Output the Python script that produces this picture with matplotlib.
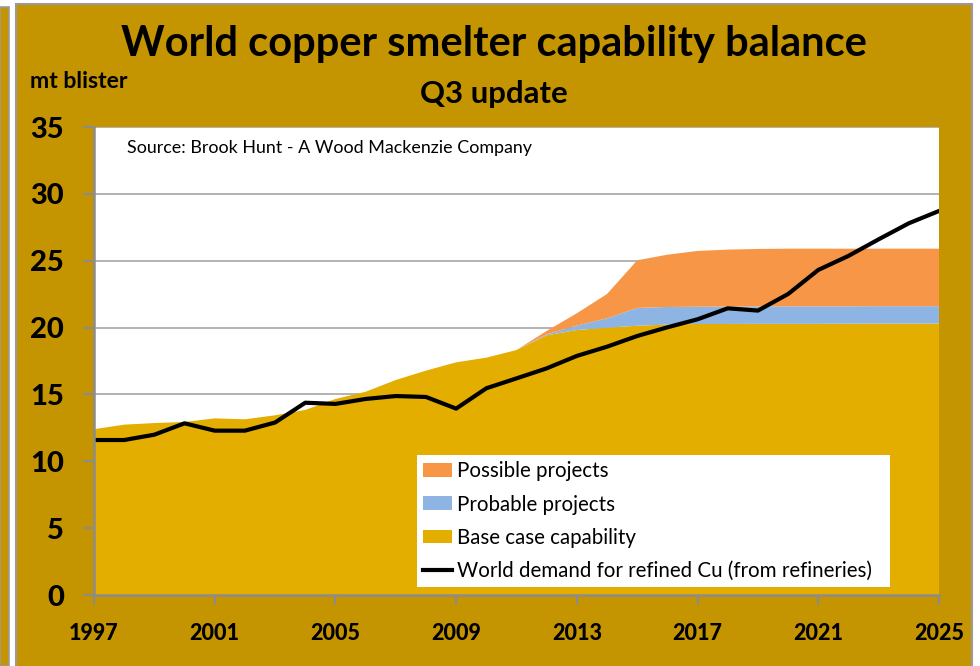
import matplotlib
matplotlib.use("Agg")
import matplotlib.pyplot as plt
from matplotlib.patches import Rectangle, Patch
from matplotlib.lines import Line2D
import numpy as np

years = list(range(1997, 2026))

base_case = [12.4, 12.74, 12.86, 12.94, 13.21, 13.14, 13.44, 13.84, 14.66, 15.2,
             16.08, 16.78, 17.4, 17.75, 18.32, 19.42, 19.82, 19.99, 20.14, 20.22,
             20.27, 20.27, 20.28, 20.28, 20.28, 20.29, 20.3, 20.3, 20.3]
probable = [0, 0, 0, 0, 0, 0, 0, 0, 0, 0,
            0, 0, 0, 0, 0, 0.08, 0.33, 0.7, 1.33, 1.32,
            1.29, 1.3, 1.3, 1.31, 1.31, 1.3, 1.3, 1.3, 1.3]
possible = [0, 0, 0, 0, 0, 0, 0, 0, 0, 0,
            0, 0, 0, 0, 0, 0.25, 0.92, 1.82, 3.56, 3.91,
            4.17, 4.26, 4.3, 4.31, 4.31, 4.31, 4.3, 4.3, 4.3]
demand = [11.59, 11.59, 11.99, 12.84, 12.29, 12.29, 12.9, 14.38, 14.29, 14.66,
          14.88, 14.81, 13.94, 15.46, 16.2, 16.95, 17.88, 18.57, 19.37, 20.02,
          20.62, 21.44, 21.27, 22.51, 24.31, 25.36, 26.6, 27.8, 28.72]

x_ticks = [1997, 2001, 2005, 2009, 2013, 2017, 2021, 2025]
y_ticks = [0, 5, 10, 15, 20, 25, 30, 35]

BG = "#C49500"
GOLD = "#E4AE00"
ORANGE = "#F79646"
BLUE = "#8EB4E3"
FONT = "Lato"

W, H = 980, 666
fig = plt.figure(figsize=(W / 100, H / 100), dpi=100, facecolor="white")

# slide panels behind the chart
fig.patches.append(Rectangle((0, 0), 9 / W, (H - 7) / H, transform=fig.transFigure,
                             facecolor=BG, edgecolor="#9A9A9A", linewidth=1.2, zorder=-2))
fig.patches.append(Rectangle((16 / W, -0.01), (972 - 16) / W, (H - 4) / H + 0.01,
                             transform=fig.transFigure, facecolor=BG,
                             edgecolor="#9A9A9A", linewidth=1.5, zorder=-2))

ax = fig.add_axes([94 / W, 1 - 595 / H, (939 - 94) / W, (595 - 127) / H])
ax.set_facecolor("white")

ax.stackplot(years, base_case, probable, possible,
             colors=[GOLD, BLUE, ORANGE], linewidth=0, zorder=2)
ax.plot(years, demand, color="black", linewidth=3.0, zorder=4,
        solid_joinstyle="round")

ax.set_xlim(1997, 2025)
ax.set_ylim(0, 35)
ax.set_xticks(x_ticks)
ax.set_yticks(y_ticks)
ax.grid(axis="y", color="#A6A6A6", linewidth=1.2, zorder=1)
ax.set_axisbelow(True)

for s in ("top", "right"):
    ax.spines[s].set_visible(False)
for s in ("left", "bottom"):
    ax.spines[s].set_color("#8C8C8C")
    ax.spines[s].set_linewidth(1.8)
    ax.spines[s].set_zorder(5)

ax.tick_params(axis="y", direction="out", length=8, width=1.5, color="#8C8C8C",
               pad=13.5)
ax.tick_params(axis="x", direction="out", length=7, width=1.5, color="#8C8C8C",
               pad=13)
for lab in ax.get_yticklabels():
    lab.set_fontfamily(FONT)
    lab.set_fontweight("black")
    lab.set_fontsize(21)
for lab in ax.get_xticklabels():
    lab.set_fontfamily(FONT)
    lab.set_fontweight("black")
    lab.set_fontsize(15.5)

fig.text(494 / W, 1 - 44 / H, "World copper smelter capability balance",
         ha="center", va="center", fontfamily=FONT, fontweight="bold",
         fontsize=30, color="black")
fig.text(494 / W, 1 - 94 / H, "Q3 update", ha="center", va="center",
         fontfamily=FONT, fontweight="bold", fontsize=22.4, color="black")
fig.text(30 / W, 1 - 82 / H, "mt blister", ha="left", va="center",
         fontfamily=FONT, fontweight="bold", fontsize=16.6, color="black")

ax.text(0.039, 0.955, "Source: Brook Hunt - A Wood Mackenzie Company",
        transform=ax.transAxes, ha="left", va="center", fontfamily=FONT,
        fontsize=12.9, color="black", zorder=6)

handles = [Patch(facecolor=ORANGE, edgecolor="none"),
           Patch(facecolor=BLUE, edgecolor="none"),
           Patch(facecolor=GOLD, edgecolor="none"),
           Line2D([0], [0], color="black", linewidth=3)]
labels = ["Possible projects", "Probable projects", "Base case capability",
          "World demand for refined Cu (from refineries)"]
leg = ax.legend(handles, labels, loc="lower left",
                bbox_to_anchor=((417 - 94) / (939 - 94), (595 - 587) / (595 - 127),
                                (890 - 417) / (939 - 94), (587 - 453) / (595 - 127)),
                mode="expand", fancybox=False, framealpha=1, edgecolor="white",
                prop={"family": FONT, "size": 14.8}, handlelength=1.4,
                handleheight=0.65, handletextpad=0.25, labelspacing=0.64,
                borderpad=0.3, borderaxespad=0)
leg.get_frame().set_linewidth(0)
leg.set_zorder(6)

fig.savefig("out.png", dpi=100, facecolor=fig.get_facecolor())
